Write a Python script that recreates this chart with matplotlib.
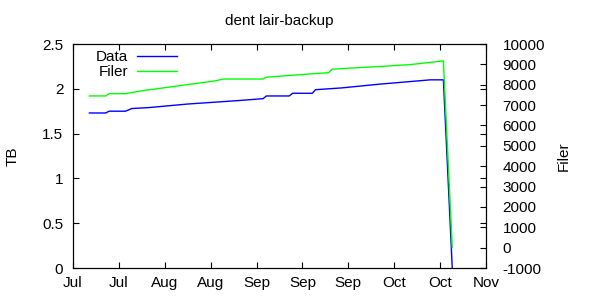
import pandas as pd
import matplotlib
matplotlib.use("Agg")
import matplotlib.pyplot as plt
import matplotlib.dates as mdates

plt.rcParams["font.family"] = ["Liberation Sans", "DejaVu Sans"]
plt.rcParams["font.size"] = 11
plt.rcParams["axes.unicode_minus"] = False

# Data series (TB, left axis)
data_dates = ["2013-07-13", "2013-07-18", "2013-07-19", "2013-07-24", "2013-07-26",
              "2013-07-31", "2013-08-06", "2013-08-12", "2013-08-20", "2013-08-28",
              "2013-09-04", "2013-09-05", "2013-09-12", "2013-09-13", "2013-09-19",
              "2013-09-20", "2013-09-28", "2013-10-09", "2013-10-25", "2013-10-29",
              "2013-10-31 17:00"]
data_tb = [1.73, 1.73, 1.75, 1.75, 1.78, 1.79, 1.81, 1.83, 1.85, 1.87,
           1.89, 1.92, 1.92, 1.95, 1.95, 1.99, 2.01, 2.05, 2.10, 2.10, 0]

# Filer series (right axis)
filer_dates = ["2013-07-13", "2013-07-18", "2013-07-19", "2013-07-24", "2013-07-30",
               "2013-08-02", "2013-08-09", "2013-08-20", "2013-08-23", "2013-09-04",
               "2013-09-05", "2013-09-21", "2013-09-24", "2013-09-25", "2013-09-29",
               "2013-10-10", "2013-10-19", "2013-10-29", "2013-10-31 17:00"]
filer_vals = [7450, 7450, 7560, 7560, 7730, 7790, 7940, 8180, 8280, 8280,
              8370, 8560, 8590, 8760, 8800, 8900, 8990, 9170, 0]

x_start = "2013-07-08"
x_end = "2013-11-11"
tick_step_days = 14

data_x = pd.to_datetime(data_dates, format="mixed")
filer_x = pd.to_datetime(filer_dates, format="mixed")

fig = plt.figure(figsize=(6, 3), dpi=100)
ax = fig.add_axes([73 / 600, 32 / 300, 413 / 600, 224 / 300])
ax2 = ax.twinx()

l1, = ax.plot(data_x, data_tb, color="#0000ff", lw=1, label="Data")
l2, = ax2.plot(filer_x, filer_vals, color="#00ff00", lw=1, label="Filer")

ax.set_xlim(pd.Timestamp(x_start), pd.Timestamp(x_end))
ax.set_ylim(0, 2.5)
ax2.set_ylim(-1000, 10000)
ax.set_yticks([0, 0.5, 1, 1.5, 2, 2.5])
ax.set_yticklabels(["0", "0.5", "1", "1.5", "2", "2.5"])
ax2.set_yticks(range(-1000, 10001, 1000))

ticks = pd.date_range(x_start, x_end, freq=f"{tick_step_days}D")
ax.set_xticks(ticks)
ax.xaxis.set_major_formatter(mdates.DateFormatter("%b"))

ax.tick_params(axis="both", direction="in", length=4, top=True, right=True, pad=7)
ax.tick_params(axis="x", pad=6)
ax2.tick_params(axis="y", direction="in", length=4, pad=12)

ax.set_ylabel("TB", labelpad=16)
ax2.set_ylabel("Filer", labelpad=8)
ax.set_title("dent lair-backup", fontsize=11, pad=14)

ax.legend([l1, l2], ["Data", "Filer"], loc="upper left", frameon=False,
          markerfirst=False, handlelength=2.6, borderaxespad=0.0,
          bbox_to_anchor=(0.04, 1.0), labelspacing=0.05, handletextpad=0.6)

fig.savefig("out.png", dpi=100)
